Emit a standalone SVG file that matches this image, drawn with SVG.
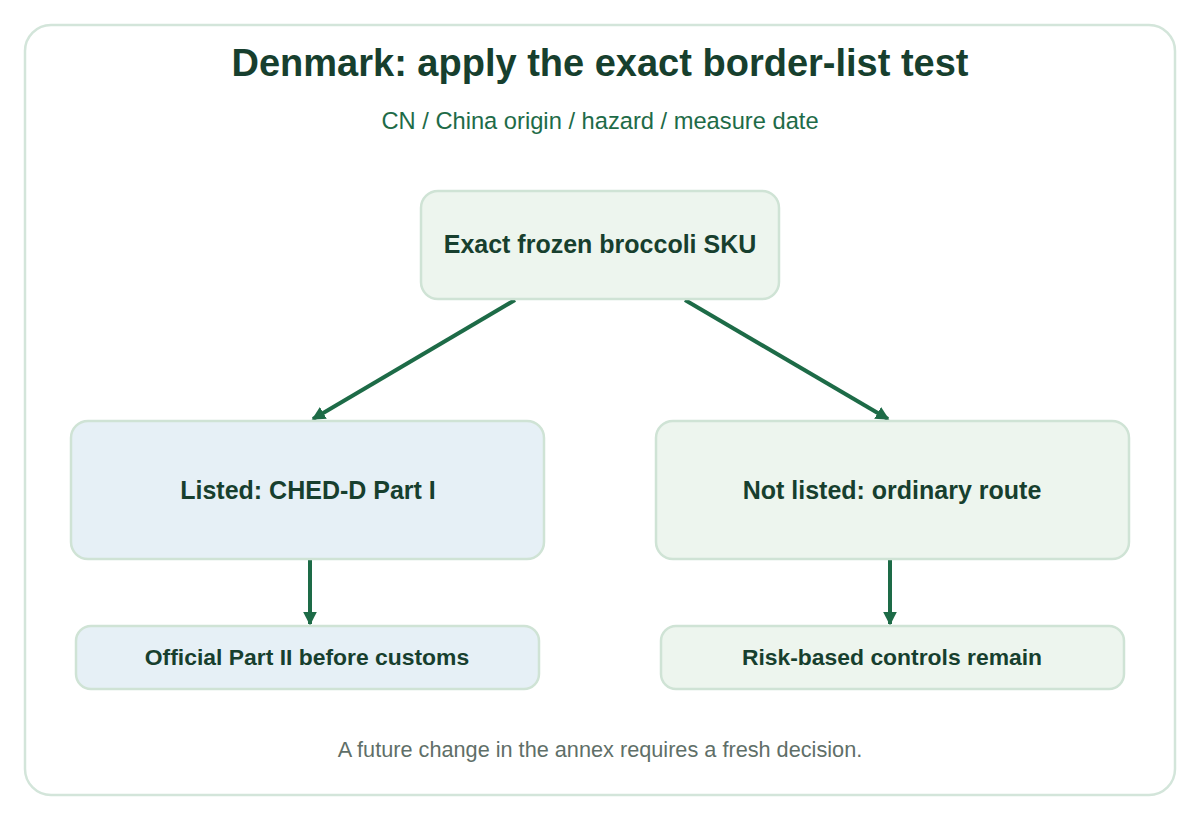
<svg xmlns="http://www.w3.org/2000/svg" width="1200" height="820" viewBox="0 0 1200 820">
<style>
.t{font-family:"Liberation Sans",Arial,sans-serif}
.node rect{stroke:#cfe3d5;stroke-width:2.5}
.green rect{fill:#edf5ee}
.blue rect{fill:#e6f0f6}
.lbl{font-family:"Liberation Sans",Arial,sans-serif;font-weight:bold;fill:#173f2e;text-anchor:middle}
.conn line{stroke:#1d6b47;stroke-width:4}
</style>
<defs>
<marker id="ah" markerWidth="3.4" markerHeight="3.4" refX="3" refY="1.7" orient="auto" markerUnits="strokeWidth">
<path d="M0,0 L3.4,1.7 L0,3.4 Z" fill="#1d6b47"/>
</marker>
</defs>
<rect x="0" y="0" width="1200" height="820" fill="#ffffff"/>
<rect x="25" y="25" width="1150" height="770" rx="26" fill="#ffffff" stroke="#d3e5da" stroke-width="2.5"/>
<text class="t" x="600" y="76" text-anchor="middle" font-size="38" font-weight="bold" fill="#173f2e">Denmark: apply the exact border-list test</text>
<text class="t" x="600" y="129" text-anchor="middle" font-size="23.7" fill="#1e6b48">CN / China origin / hazard / measure date</text>
<g class="conn">
<line x1="515" y1="300" x2="313" y2="419" marker-end="url(#ah)"/>
<line x1="685" y1="300" x2="888" y2="419" marker-end="url(#ah)"/>
<line x1="310" y1="560" x2="310" y2="624" marker-end="url(#ah)"/>
<line x1="890" y1="560" x2="890" y2="624" marker-end="url(#ah)"/>
</g>
<g id="n-sku" class="node green">
<rect x="421" y="191" width="358" height="108" rx="17"/>
<text class="lbl" x="600" y="253" font-size="25">Exact frozen broccoli SKU</text>
</g>
<g id="n-listed" class="node blue">
<rect x="71" y="421" width="473" height="138" rx="17"/>
<text class="lbl" x="308" y="499" font-size="25">Listed: CHED-D Part I</text>
</g>
<g id="n-notlisted" class="node green">
<rect x="656" y="421" width="473" height="138" rx="17"/>
<text class="lbl" x="892" y="499" font-size="25">Not listed: ordinary route</text>
</g>
<g id="n-part2" class="node blue">
<rect x="76" y="626" width="463" height="63" rx="15"/>
<text class="lbl" x="307" y="665" font-size="22.9">Official Part II before customs</text>
</g>
<g id="n-risk" class="node green">
<rect x="661" y="626" width="463" height="63" rx="15"/>
<text class="lbl" x="892" y="665" font-size="22.9">Risk-based controls remain</text>
</g>
<text class="t" x="600" y="757" text-anchor="middle" font-size="21.7" fill="#5f6f68">A future change in the annex requires a fresh decision.</text>
</svg>
